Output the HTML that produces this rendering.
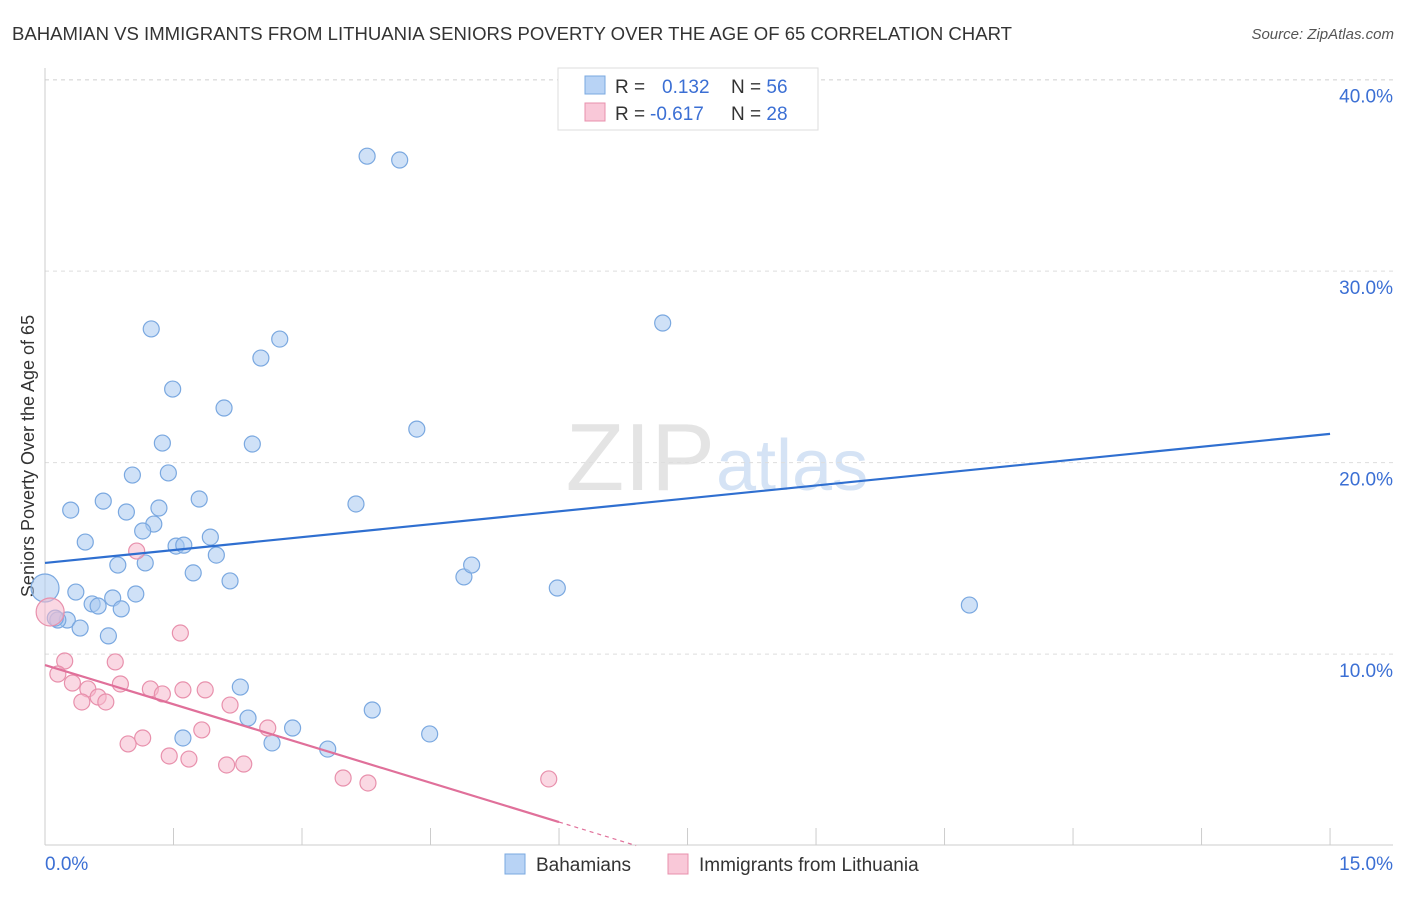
<!DOCTYPE html>
<html><head><meta charset="utf-8"><style>
body{margin:0;background:#fff;font-family:"Liberation Sans",sans-serif}
svg text{font-family:"Liberation Sans",sans-serif}
</style></head><body>
<svg id="c" width="1406" height="892" xmlns="http://www.w3.org/2000/svg">
<text x="12" y="40" font-size="18" textLength="1000" lengthAdjust="spacingAndGlyphs" fill="#333">BAHAMIAN VS IMMIGRANTS FROM LITHUANIA SENIORS POVERTY OVER THE AGE OF 65 CORRELATION CHART</text>
<text x="1394" y="39" font-size="15" fill="#555" font-style="italic" text-anchor="end">Source: ZipAtlas.com</text>
<text x="715" y="490" font-size="96" fill="#e4e4e4" text-anchor="end" font-family="Liberation Serif">ZIP</text>
<text x="716" y="490" font-size="72" fill="#d5e3f5">atlas</text>
<text transform="translate(34,456) rotate(-90)" font-size="18" fill="#333" text-anchor="middle">Seniors Poverty Over the Age of 65</text>
<g id="grid"></g><g id="pts"></g><g id="lines"></g>
<g>
<rect x="558" y="68" width="260" height="62" fill="#fff" stroke="#ddd"/>
<rect x="585" y="76" width="20" height="18" fill="#b8d3f5" stroke="#7aa8e0"/>
<rect x="585" y="103" width="20" height="18" fill="#f9c8d8" stroke="#e890ac"/>
<text x="615" y="93" font-size="19" fill="#333">R = <tspan fill="#3b6fd4" x="662">0.132</tspan><tspan x="731" fill="#333">N = </tspan><tspan fill="#3b6fd4">56</tspan></text>
<text x="615" y="120" font-size="19" fill="#333">R = <tspan fill="#3b6fd4" x="650">-0.617</tspan><tspan x="731" fill="#333">N = </tspan><tspan fill="#3b6fd4">28</tspan></text>
</g>
<g>
<rect x="505" y="854" width="20" height="20" fill="#b8d3f5" stroke="#7aa8e0"/>
<text x="536" y="871" font-size="19" fill="#333">Bahamians</text>
<rect x="668" y="854" width="20" height="20" fill="#f9c8d8" stroke="#e890ac"/>
<text x="699" y="871" font-size="19" fill="#333">Immigrants from Lithuania</text>
</g>
</svg>
<script>
const yTicks=[10,20,30,40];
const yTickLabels=["10.0%","20.0%","30.0%","40.0%"];
const xTickLabels=["0.0%","15.0%"];
const blueX=[3.76,4.14,1.24,2.74,2.52,7.21,1.49,2.09,4.34,1.37,2.42,1.02,1.44,0.68,1.80,0.30,0.95,1.33,3.63,1.27,1.14,0.47,1.93,1.53,1.62,2.0,0.85,1.17,1.73,4.89,4.98,2.16,5.98,0.36,1.06,0.79,0.55,0.62,0.89,10.79,0.26,0.15,0.41,0.74,2.28,2.37,3.82,2.89,1.61,2.65,3.30,4.49,0.12];
const blueY=[36.0,35.8,26.98,26.45,25.46,27.29,23.84,22.85,21.75,21.02,20.97,19.35,19.46,17.99,18.1,17.52,17.42,17.63,17.84,16.79,16.43,15.85,16.11,15.64,15.69,15.17,14.65,14.76,14.24,14.03,14.65,13.82,13.45,13.24,13.14,12.93,12.62,12.51,12.36,12.56,11.78,11.78,11.36,10.95,8.28,6.66,7.08,6.14,5.62,5.36,5.04,5.83,11.88];
const pinkX=[1.07,1.58,0.23,0.82,0.15,0.32,0.50,0.88,0.62,1.23,1.61,1.37,1.87,0.43,0.71,2.16,1.83,2.60,1.14,0.97,1.45,1.68,2.12,2.32,3.48,3.77,5.88];
const pinkY=[15.38,11.1,9.64,9.59,8.96,8.49,8.18,8.44,7.76,8.18,8.13,7.92,8.13,7.5,7.5,7.34,6.04,6.14,5.62,5.31,4.68,4.52,4.21,4.26,3.53,3.27,3.48];
const bigBlue=[0,13.45], bigPink=[0.06,12.2];
const blueTrend=[14.76,21.5], pinkTrend=[9.43,1.23], pinkTrendEndX=6;
const X=v=>45+v*85.67, Y=v=>845.6-v*19.15;
const NS="http://www.w3.org/2000/svg";
function mk(p,t,a){const e=document.createElementNS(NS,t);for(const k in a)e.setAttribute(k,a[k]);p.appendChild(e);return e;}
const g=document.getElementById('grid');
yTicks.forEach((t,i)=>{
 const l=mk(g,'line',{x1:45,x2:1393,y1:Y(t),y2:Y(t),stroke:'#ddd','stroke-dasharray':'4,4'});
 
 
 const tx=mk(g,'text',{x:1393,y:Y(t)+23,'font-size':19,fill:'#3b6fd4','text-anchor':'end'});
 tx.textContent=yTickLabels[i];
 
 
});
mk(g,'line',{x1:45,x2:1393,y1:80,y2:80,stroke:'#ddd','stroke-dasharray':'4,4'});
mk(g,'line',{x1:45,x2:45,y1:68,y2:845,stroke:'#ccc'});
mk(g,'line',{x1:45,x2:1393,y1:845,y2:845,stroke:'#ccc'});
for(let i=0;i<=10;i++){const t=mk(g,'line',{x1:X(i*1.5),x2:X(i*1.5),y1:828,y2:845,stroke:'#ccc'});
 
 }
[[0,'start',45],[15,'end',1393]].forEach((o,i)=>{const t=mk(g,'text',{x:o[2],y:870,'font-size':19,fill:'#3b6fd4','text-anchor':o[1]});t.textContent=xTickLabels[i];
 
 });
const p=document.getElementById('pts');
function dot(x,y,r,f,s,n){const c=mk(p,'circle',{cx:X(x),cy:Y(y),r:r,fill:f,'fill-opacity':0.55,stroke:s,'stroke-width':1.2});
 
 }
blueX.forEach((x,i)=>dot(x,blueY[i],8,'#a8c8f0','#7aa8e0','bahamian-point'));
pinkX.forEach((x,i)=>dot(x,pinkY[i],8,'#f5b8cc','#e890ac','lithuania-point'));
dot(bigBlue[0],bigBlue[1],14,'#a8c8f0','#7aa8e0','bahamian-point-large');
dot(bigPink[0],bigPink[1],14,'#f5b8cc','#e890ac','lithuania-point-large');
const L=document.getElementById('lines');
const b=mk(L,'line',{x1:X(0),y1:Y(blueTrend[0]),x2:X(15),y2:Y(blueTrend[1]),stroke:'#2f6fd0','stroke-width':2.2});


const slope=(pinkTrend[1]-pinkTrend[0])/pinkTrendEndX;
const pl=mk(L,'line',{x1:X(0),y1:Y(pinkTrend[0]),x2:X(pinkTrendEndX),y2:Y(pinkTrend[1]),stroke:'#e0709a','stroke-width':2.2});


const xz=-pinkTrend[0]/slope;
const pd=mk(L,'line',{x1:X(pinkTrendEndX),y1:Y(pinkTrend[1]),x2:X(xz),y2:Y(0),stroke:'#e0709a','stroke-width':1.2,'stroke-dasharray':'4,4'});


</script>
</body></html>
